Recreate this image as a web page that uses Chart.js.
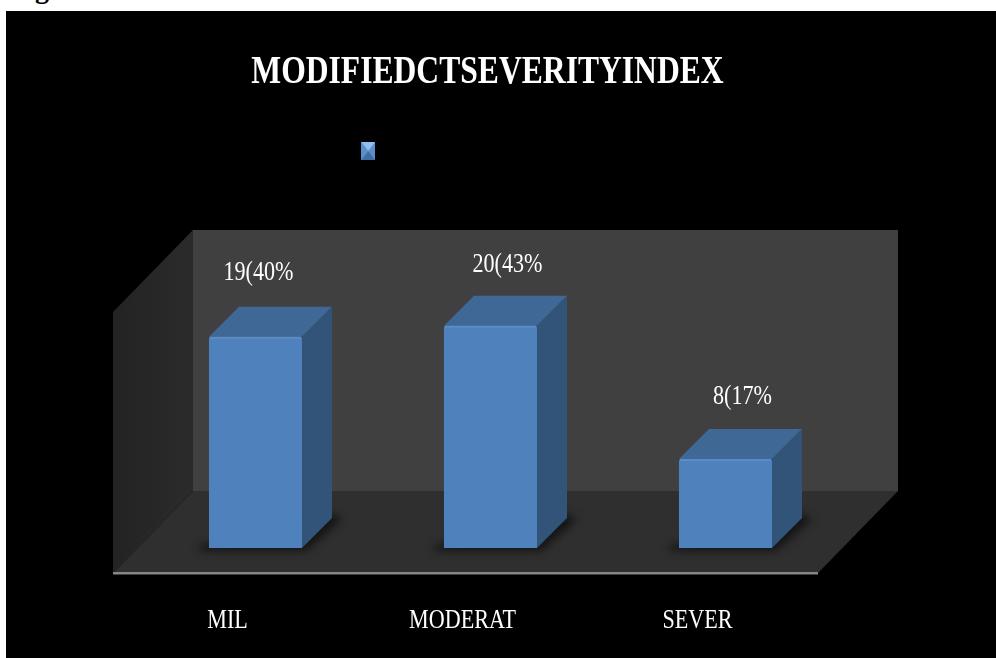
<!DOCTYPE html>
<html>
<head>
<meta charset="utf-8">
<title>Modified CT severity index</title>
<script src="https://cdn.jsdelivr.net/npm/chart.js@4/dist/chart.umd.min.js"></script>
<style>
  html, body { margin: 0; padding: 0; background: #fff; overflow: hidden; }
  #fig { position: absolute; left: 10px; top: -27px; font: bold 28px "Liberation Serif", serif; line-height: 32px; color: #000; }
  #box { position: absolute; left: 6px; top: 11px; width: 990px; height: 647px; background: #000; }
</style>
</head>
<body>
<div id="fig">Fig</div>
<div id="box"><canvas id="chart" width="990" height="647"></canvas></div>

<script>
const categories = ['MIL', 'MODERAT', 'SEVER'];
const seriesValues = [19, 20, 8];
const valueLabels = ['19(40%', '20(43%', '8(17%'];
const chartTitle = 'MODIFIEDCTSEVERITYINDEX';

const SERIF = '"Liberation Serif", "Times New Roman", serif';
const DEPTH = 30;
const TEXT_SQUEEZE = 0.79;   // the original text is horizontally condensed
const labelNudgeX = [3, 17, 17];
const labelNudgeY = [-64, -61, -62];

// small pyramid shaded legend marker
function legendMarker() {
  const c = document.createElement('canvas');
  c.width = 14; c.height = 18;
  const g = c.getContext('2d');
  const tri = (pts, col) => {
    g.fillStyle = col;
    g.beginPath();
    pts.forEach((p, i) => i ? g.lineTo(p[0], p[1]) : g.moveTo(p[0], p[1]));
    g.closePath();
    g.fill();
  };
  g.fillStyle = '#6fa0d8';
  g.fillRect(0, 0, 14, 18);
  tri([[0, 0], [14, 0], [7, 9]], '#8fc0ee');
  tri([[0, 0], [0, 18], [7, 9]], '#5b8fc9');
  tri([[14, 0], [14, 18], [7, 9]], '#5b8fc9');
  tri([[0, 18], [14, 18], [7, 9]], '#3f6ea6');
  return c;
}

function poly(ctx, pts, fill) {
  ctx.fillStyle = fill;
  ctx.beginPath();
  pts.forEach((p, i) => i ? ctx.lineTo(p[0], p[1]) : ctx.moveTo(p[0], p[1]));
  ctx.closePath();
  ctx.fill();
}

// walls and floor of the 3D box, hung off the chart area
const boxWalls = {
  id: 'boxWalls',
  beforeDatasetsDraw(chart) {
    const { ctx, chartArea: a } = chart;
    const fl = a.left - 25, fr = a.right - 25, fy = a.bottom + 25;
    const bl = fl + 80, br = fr + 80, by = fy - 82;
    const top = by - 261;

    ctx.save();
    poly(ctx, [[bl, top], [br, top], [br, by], [bl, by]], '#404040');
    const left = ctx.createLinearGradient(fl, 0, bl, 0);
    left.addColorStop(0, '#232323');
    left.addColorStop(1, '#2b2b2b');
    poly(ctx, [[fl, top + 82], [bl, top], [bl, by], [fl, fy]], left);
    poly(ctx, [[fl, fy], [bl, by], [br, by], [fr, fy]], '#2f2f2f');
    ctx.fillStyle = '#868686';
    ctx.fillRect(fl, fy - 1, fr - fl, 2.5);

    // soft shadows on the floor under each bar
    ctx.filter = 'blur(4px)';
    chart.getDatasetMeta(0).data.forEach(bar => {
      const x0 = bar.x - bar.width / 2, x1 = bar.x + bar.width / 2;
      poly(ctx, [[x0 - 10, bar.base - 2], [x0 - 10, bar.base + 3], [x1 + 4, bar.base + 3], [x1 + DEPTH + 10, bar.base - DEPTH + 1], [x1 + DEPTH, bar.base - DEPTH - 4]], 'rgba(15,15,15,0.85)');
    });
    ctx.restore();
  }
};

// top and side faces of the bars, plus the value labels
const barFaces = {
  id: 'barFaces',
  afterDatasetsDraw(chart) {
    const ctx = chart.ctx;
    ctx.save();
    chart.getDatasetMeta(0).data.forEach((bar, i) => {
      const x0 = bar.x - bar.width / 2, x1 = bar.x + bar.width / 2;
      poly(ctx, [[x0, bar.y], [x0 + DEPTH, bar.y - DEPTH], [x1 + DEPTH, bar.y - DEPTH], [x1, bar.y]], '#3f6897');
      poly(ctx, [[x1, bar.y], [x1 + DEPTH, bar.y - DEPTH], [x1 + DEPTH, bar.base - DEPTH], [x1, bar.base]], '#325479');
      // lighter bevel along the top edge of the front face
      ctx.fillStyle = '#5a8cc8';
      ctx.fillRect(x0 + 1, bar.y, bar.width - 2, 2);

      ctx.fillStyle = '#ffffff';
      ctx.font = '28px ' + SERIF;
      ctx.textAlign = 'center';
      ctx.textBaseline = 'middle';
      ctx.fillText(valueLabels[i], bar.x + labelNudgeX[i], bar.y + labelNudgeY[i]);
    });
    ctx.restore();
  }
};

const canvas = document.getElementById('chart');
const rawCtx = canvas.getContext('2d');
const plainFillText = rawCtx.fillText.bind(rawCtx);
rawCtx.fillText = function (text, x, y) {
  rawCtx.save();
  rawCtx.translate(x, y);
  rawCtx.scale(TEXT_SQUEEZE, 1);
  plainFillText(text, 0, 0);
  rawCtx.restore();
};

new Chart(canvas, {
  type: 'bar',
  data: {
    labels: categories,
    datasets: [{
      label: '\u00a0'.repeat(51),
      data: seriesValues,
      backgroundColor: '#4f81bd',
      borderRadius: 2,
      barPercentage: 0.396,
      categoryPercentage: 1,
      pointStyle: legendMarker()
    }]
  },
  options: {
    responsive: false,
    animation: false,
    layout: { padding: { left: 126, right: 153, top: 0, bottom: 0 } },
    plugins: {
      title: {
        display: true,
        text: chartTitle,
        color: '#ffffff',
        font: { family: SERIF, size: 40, weight: 'bold' },
        padding: { top: 38, bottom: 35 }
      },
      legend: {
        display: true,
        position: 'top',
        labels: {
          usePointStyle: true,
          color: '#000000',
          font: { family: SERIF, size: 18 },
          padding: 10
        }
      },
      tooltip: { enabled: false }
    },
    scales: {
      x: {
        grid: { display: false },
        border: { display: false },
        afterFit(scale) { scale.height = 110; },
        ticks: {
          color: '#ffffff',
          font: { family: SERIF, size: 28 },
          padding: 48,
          labelOffset: -28,
          maxRotation: 0,
          autoSkip: false
        }
      },
      y: {
        min: 0,
        max: 34,
        grid: { display: false },
        border: { display: false },
        ticks: { display: false },
        afterFit(scale) { scale.width = 6; }
      }
    }
  },
  plugins: [boxWalls, barFaces]
});
</script>
</body>
</html>
